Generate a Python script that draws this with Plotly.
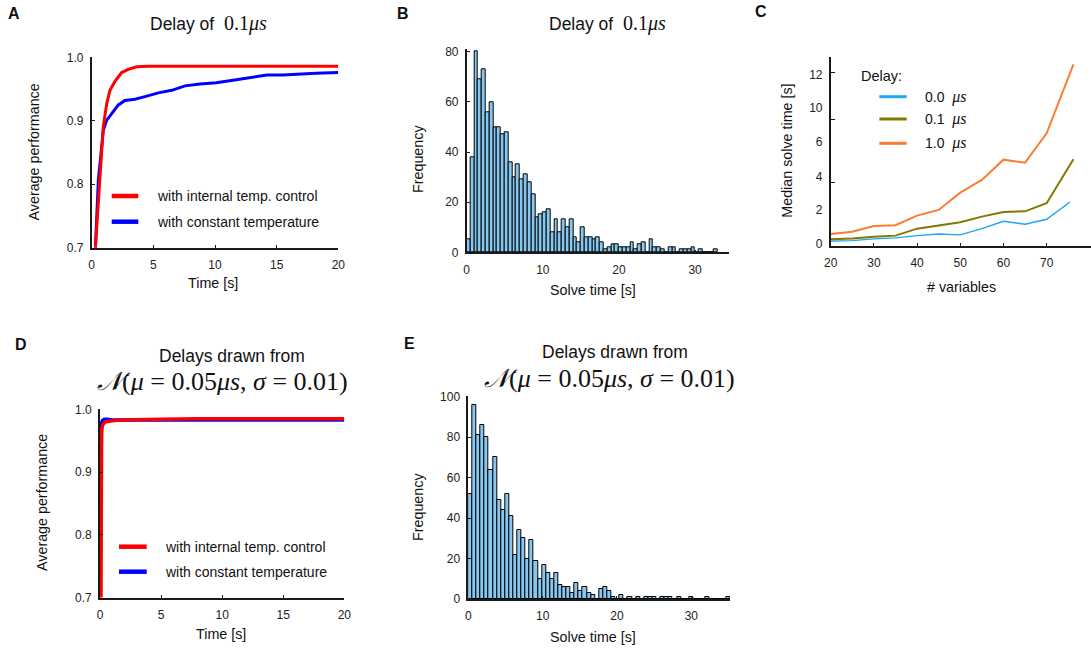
import plotly.graph_objects as go

W, H = 1091, 648

# ---------------- data ----------------
# Panel A (delay 0.1 us)
a_red_t = [0.3, 0.54, 0.73, 0.94, 1.22, 1.48, 1.89, 2.43, 2.97, 3.65, 4.6, 6, 8, 10, 12, 14, 16, 18, 20]
a_red_p = [0.70, 0.775, 0.838, 0.891, 0.927, 0.948, 0.962, 0.976, 0.981, 0.985, 0.986, 0.986, 0.986, 0.986, 0.986, 0.986, 0.986, 0.986, 0.986]
a_blue_t = [0.3, 0.54, 0.81, 0.94, 1.22, 1.62, 2.16, 2.70, 3.51, 4.32, 5.4, 6.49, 7.57, 8.78, 10.1, 11.45, 12.8, 14.2, 15.5, 16.9, 18.2, 20]
a_blue_p = [0.70, 0.807, 0.859, 0.885, 0.901, 0.912, 0.925, 0.932, 0.934, 0.938, 0.944, 0.948, 0.955, 0.958, 0.960, 0.964, 0.968, 0.972, 0.972, 0.974, 0.975, 0.976]

# Panel D (delays drawn from normal)
d_red_t = [0.08, 0.09, 0.10, 0.13, 0.18, 0.27, 0.45, 0.7, 1.2, 1.8, 3, 5, 8, 12, 16, 20]
d_red_p = [0.70, 0.85, 0.94, 0.962, 0.972, 0.977, 0.980, 0.981, 0.982, 0.983, 0.983, 0.984, 0.985, 0.985, 0.985, 0.985]
d_blue_t = [0.05, 0.07, 0.09, 0.12, 0.2, 0.35, 0.6, 1, 2, 5, 10, 15, 20]
d_blue_p = [0.82, 0.90, 0.96, 0.978, 0.982, 0.984, 0.984, 0.983, 0.983, 0.983, 0.983, 0.983, 0.983]

# Panel B histogram (bin width 0.5 s starting at 0)
b_bin_start = 0.0
b_bin_width = 0.5
b_counts = [5, 38, 80, 69, 73, 56, 60, 50, 50, 47, 48, 36, 30, 35, 29, 31, 28, 23, 14, 15,
            16, 17, 8, 13, 8, 13, 10, 13, 6, 4, 10, 6, 6, 5, 6, 4, 1, 2, 3, 3,
            2, 2, 2, 4, 1, 3, 4, 0, 5, 2, 2, 1, 0, 2, 2, 0, 1, 1, 1, 2,
            0, 1, 0, 0, 0, 1]

# Panel E histogram
e_bin_start = 0.0
e_bin_width = 0.55
e_counts = [52, 96, 81, 86, 80, 64, 70, 49, 44, 52, 41, 22, 34, 30, 20, 29, 19, 10, 17, 13,
            10, 13, 7, 6, 6, 3, 8, 4, 6, 3, 2, 0, 5, 6, 4, 1, 0, 2, 0, 1,
            0, 1, 0, 1, 1, 1, 0, 1, 1, 1, 0, 1, 0, 0, 1, 0, 0, 0, 1, 0,
            0, 0, 0, 1]

# Panel C: median solve time vs number of variables
c_x_00 = [20, 25, 30, 35, 40, 45, 50, 55, 60, 65, 70, 75.4]
c_y_00 = [0.16, 0.19, 0.31, 0.38, 0.54, 0.66, 0.59, 1.03, 1.55, 1.34, 1.69, 2.91]
c_x_01 = [20, 25, 30, 35, 40, 45, 50, 55, 60, 65, 70, 76.2]
c_y_01 = [0.28, 0.33, 0.47, 0.54, 1.03, 1.27, 1.48, 1.88, 2.21, 2.25, 2.82, 5.92]
c_x_10 = [20, 25, 30, 35, 40, 45, 50, 55, 60, 65, 70, 76.2]
c_y_10 = [0.66, 0.82, 1.22, 1.27, 1.95, 2.35, 3.57, 4.46, 5.89, 5.68, 7.75, 12.6]
c_ytick_pos = [0, 2.39, 4.69, 7.15, 9.51, 11.85]
c_ytick_text = ["0", "2", "4", "6", "10", "12"]
c_ytick_marks = [4.27, 8.73, 12.0]

# ---------------- styling ----------------
RED = "#ff0000"
BLUE = "#0000ff"
C_BLUE = "#1ea5f4"
C_OLIVE = "#807a00"
C_ORANGE = "#fb7d32"
HIST = "#87c8f2"
AX = "#1a1a1a"
SANS = "Liberation Sans, Arial, sans-serif"
SERIF = "Liberation Serif, DejaVu Serif, serif"


def px(x):
    return x / W


def py(y):
    return 1 - y / H


fig = go.Figure()

# Panel A
fig.add_trace(go.Scatter(x=a_blue_t, y=a_blue_p, mode="lines", line=dict(color=BLUE, width=3),
                         xaxis="x", yaxis="y", showlegend=False))
fig.add_trace(go.Scatter(x=a_red_t, y=a_red_p, mode="lines", line=dict(color=RED, width=3),
                         xaxis="x", yaxis="y", showlegend=False))

# Panel B
b_centers = [b_bin_start + b_bin_width * (i + 0.5) for i in range(len(b_counts))]
fig.add_trace(go.Bar(x=b_centers, y=b_counts, width=b_bin_width, xaxis="x2", yaxis="y2",
                     marker=dict(color=HIST, line=dict(color="#000000", width=1)), showlegend=False))

# Panel C
fig.add_trace(go.Scatter(x=c_x_00, y=c_y_00, mode="lines", line=dict(color=C_BLUE, width=1.4),
                         xaxis="x3", yaxis="y3", showlegend=False))
fig.add_trace(go.Scatter(x=c_x_01, y=c_y_01, mode="lines", line=dict(color=C_OLIVE, width=2),
                         xaxis="x3", yaxis="y3", showlegend=False))
fig.add_trace(go.Scatter(x=c_x_10, y=c_y_10, mode="lines", line=dict(color=C_ORANGE, width=2),
                         xaxis="x3", yaxis="y3", showlegend=False))

# Panel D
fig.add_trace(go.Scatter(x=d_blue_t, y=d_blue_p, mode="lines", line=dict(color=BLUE, width=3.5),
                         xaxis="x4", yaxis="y4", showlegend=False))
fig.add_trace(go.Scatter(x=d_red_t, y=d_red_p, mode="lines", line=dict(color=RED, width=3.5),
                         xaxis="x4", yaxis="y4", showlegend=False))

# Panel E
e_centers = [e_bin_start + e_bin_width * (i + 0.5) for i in range(len(e_counts))]
fig.add_trace(go.Bar(x=e_centers, y=e_counts, width=e_bin_width, xaxis="x5", yaxis="y5",
                     marker=dict(color=HIST, line=dict(color="#000000", width=1)), showlegend=False))

tickfont = dict(family=SANS, size=12, color="#222222")


def xax(dom, rng, tv, anchor, ticktext=None):
    d = dict(domain=dom, range=rng, tickvals=tv, anchor=anchor, showline=True, linecolor=AX,
             linewidth=1.6, ticks="inside", ticklen=3, tickcolor=AX, showgrid=False, zeroline=False,
             tickfont=tickfont, ticklabelstandoff=5, automargin=False)
    if ticktext:
        d["ticktext"] = ticktext
    return d


def yax(dom, rng, tv, anchor, ticktext=None):
    d = dict(domain=dom, range=rng, tickvals=tv, anchor=anchor, showline=True, linecolor=AX,
             linewidth=1.6, ticks="inside", ticklen=3, tickcolor=AX, showgrid=False, zeroline=False,
             tickfont=tickfont, ticklabelstandoff=4, automargin=False)
    if ticktext:
        d["ticktext"] = ticktext
    return d


perf_ticks = [0.7, 0.8, 0.9, 1.0]
perf_text = ["0.7", "0.8", "0.9", "1.0"]

layout = dict(
    template="none",
    width=W, height=H, margin=dict(l=0, r=0, t=0, b=0, pad=0), autosize=False,
    paper_bgcolor="white", plot_bgcolor="white", bargap=0,
    xaxis=xax([px(91.7), px(338.3)], [0, 20], [0, 5, 10, 15, 20], "y"),
    yaxis=yax([py(247.7), py(57.3)], [0.7, 1.0], perf_ticks, "x", perf_text),
    xaxis2=xax([px(466.7), px(729.3)], [0, 34.5], [0, 10, 20, 30], "y2"),
    yaxis2=yax([py(252.3), py(49.3)], [0, 80.96], [0, 20, 40, 60, 80], "x2"),
    xaxis3=xax([px(830.7), px(1090.7)], [20, 80.2], [20, 30, 40, 50, 60, 70], "y3"),
    yaxis3=yax([py(246), py(56.7)], [-0.19, 13.14], c_ytick_pos, "x3", c_ytick_text),
    yaxis6=dict(domain=[py(246), py(56.7)], range=[-0.19, 13.14], overlaying="y3", anchor="x3",
                tickvals=c_ytick_marks, ticks="inside", ticklen=4, tickcolor=AX, automargin=False,
                showticklabels=False, showline=False, showgrid=False, zeroline=False),
    xaxis4=xax([px(100), px(344.3)], [0, 20], [0, 5, 10, 15, 20], "y4"),
    yaxis4=yax([py(597.7), py(409.3)], [0.7, 1.0], perf_ticks, "x4", perf_text),
    xaxis5=xax([px(468.3), px(730)], [0, 35.2], [0, 10, 20, 30], "y5"),
    yaxis5=yax([py(599), py(396)], [0, 100.35], [0, 20, 40, 60, 80, 100], "x5"),
)
layout["yaxis3"]["ticks"] = ""
fig.update_layout(**layout)
# dummy trace so yaxis6 is drawn
fig.add_trace(go.Scatter(x=[None], y=[None], xaxis="x3", yaxis="y6", showlegend=False))

ann = []


def text(x, y, s, size=13, xanchor="center", angle=0, family=SANS, bold=False):
    if bold:
        s = "<b>" + s + "</b>"
    ann.append(dict(x=px(x), y=py(y), xref="paper", yref="paper", text=s, showarrow=False,
                    xanchor=xanchor, yanchor="middle", textangle=angle,
                    font=dict(family=family, size=size, color="#111111")))


# panel letters
text(14, 13.5, "A", 16, bold=True)
text(403, 13.5, "B", 16, bold=True)
text(761, 12, "C", 16, bold=True)
text(21, 344, "D", 16, bold=True)
text(409, 343, "E", 16, bold=True)

serif_mu = "<span style=\"font-family:'Liberation Serif';font-size:20px\">0.1<i>μs</i></span>"
text(208, 24, "Delay of  " + serif_mu, 17.5)
text(607.5, 24, "Delay of  " + serif_mu, 17.5)

normal = ("<span style=\"font-family:'Liberation Serif'\"><i>𝒩</i>(<i>μ</i> = 0.05<i>μs</i>, "
          "<i>σ</i> = 0.01)</span>")
text(232, 355.5, "Delays drawn from", 17.5)
text(222, 382, normal, 26, family=SERIF)
text(615, 351.5, "Delays drawn from", 17.5)
text(609, 378, normal, 26, family=SERIF)

# axis titles
text(33, 152.5, "Average performance", 14.3, angle=-90)
text(213, 283, "Time [s]", 14.3)
text(418, 159, "Frequency", 14.3, angle=-90)
text(592.5, 290, "Solve time [s]", 14.3)
text(786.7, 151, "Median solve time [s]", 14.3, angle=-90)
text(961, 287, "# variables", 14.3)
text(42, 503, "Average performance", 14.3, angle=-90)
text(221, 634, "Time [s]", 14.3)
text(418, 507, "Frequency", 14.3, angle=-90)
text(593, 636.5, "Solve time [s]", 14.3)

# legends
shapes = []


def swatch(x0, x1, y, color, width):
    shapes.append(dict(type="line", xref="paper", yref="paper", x0=px(x0), x1=px(x1), y0=py(y), y1=py(y),
                       line=dict(color=color, width=width)))


swatch(111.7, 138.3, 196, RED, 4.5)
swatch(111.7, 138.3, 221.7, BLUE, 4.5)
text(155, 196, "with internal temp. control", 14, xanchor="left")
text(155, 221.7, "with constant temperature", 14, xanchor="left")

swatch(119, 146.7, 546.7, RED, 4.5)
swatch(119, 146.7, 571.7, BLUE, 4.5)
text(162.7, 546.7, "with internal temp. control", 14, xanchor="left")
text(162.7, 571.7, "with constant temperature", 14, xanchor="left")

text(859, 76, "Delay:", 14.5, xanchor="left")
swatch(879.3, 906.7, 96.7, C_BLUE, 3)
swatch(879.3, 906.7, 119, C_OLIVE, 3)
swatch(879.3, 906.7, 143.3, C_ORANGE, 3)
mu = "<span style=\"font-family:'Liberation Serif';font-size:16px\"><i>μs</i></span>"
text(922.7, 96.7, "0.0  " + mu, 14, xanchor="left")
text(922.7, 119, "0.1  " + mu, 14, xanchor="left")
text(922.7, 143.3, "1.0  " + mu, 14, xanchor="left")

fig.update_layout(annotations=ann, shapes=shapes)
fig.write_html("out.html", config={"displayModeBar": False},
               post_script="document.body.style.margin='0';document.body.style.overflow='hidden';")
